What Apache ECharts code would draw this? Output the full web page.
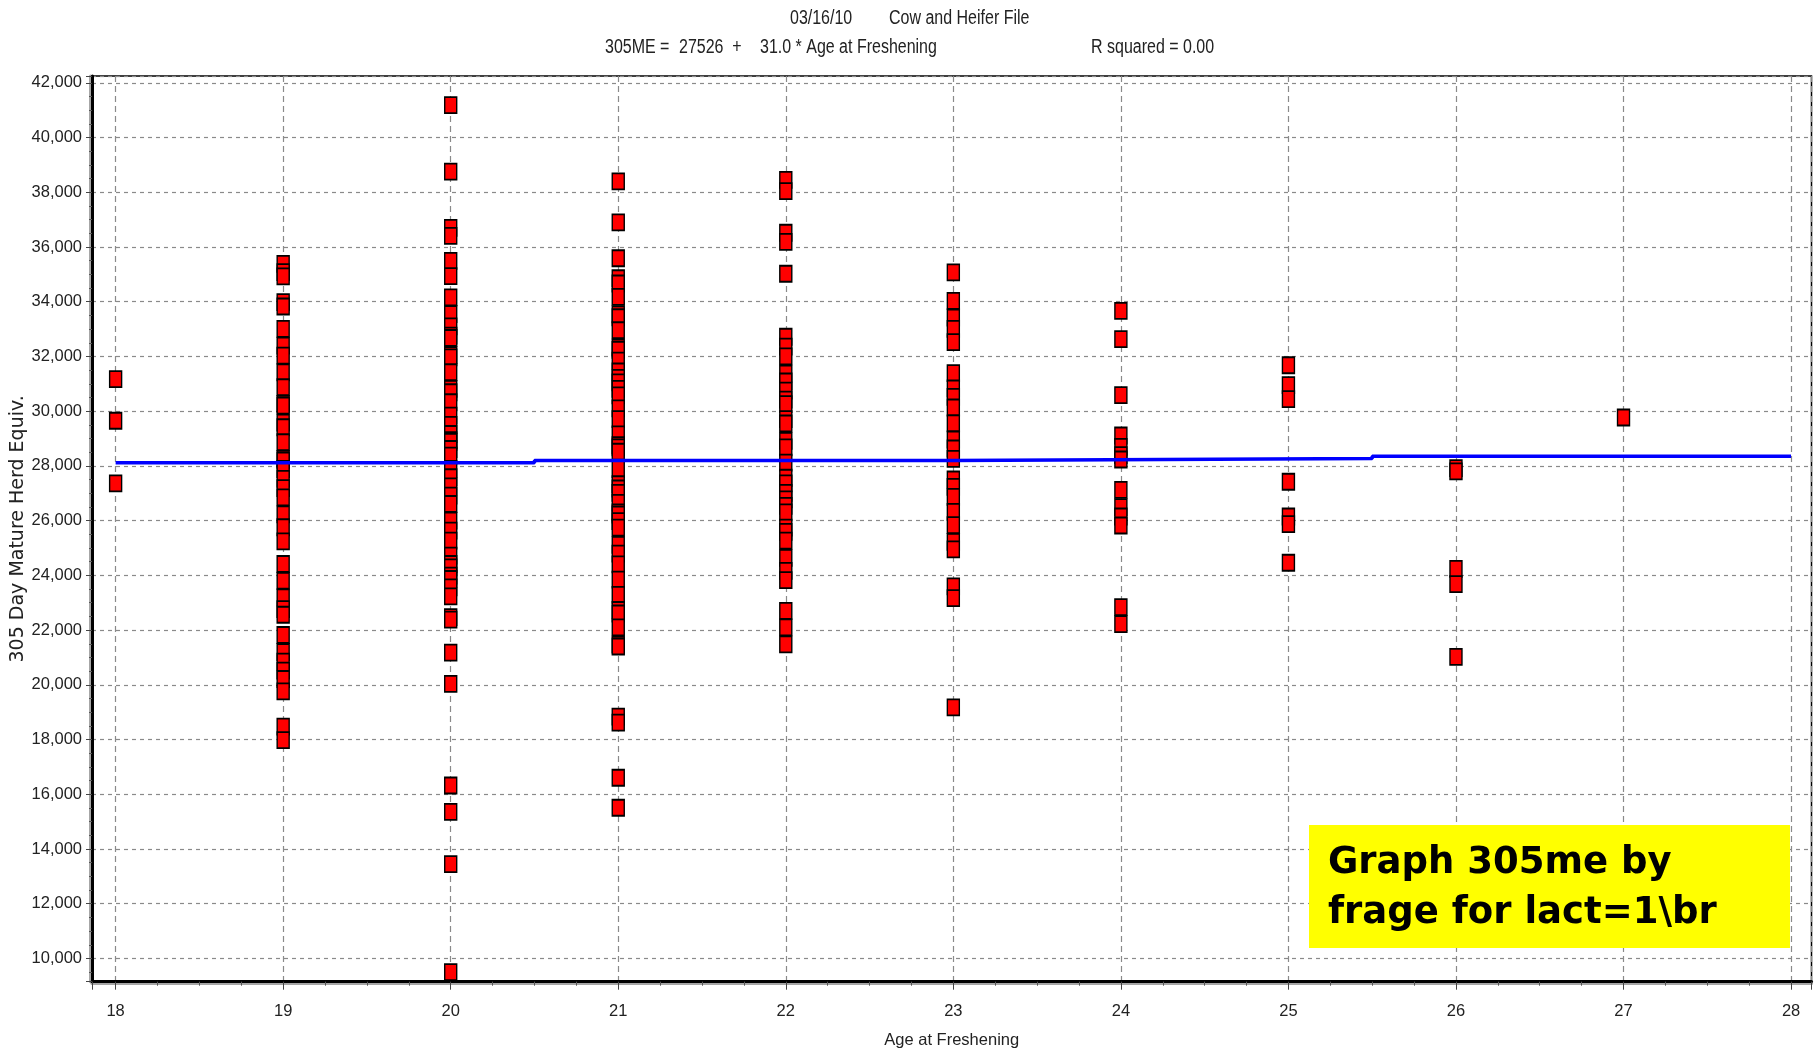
<!DOCTYPE html>
<html><head><meta charset="utf-8">
<script src="https://cdn.jsdelivr.net/npm/echarts@6/dist/echarts.min.js"></script>
<style>html,body{margin:0;padding:0;background:#fff}#c{width:1815px;height:1051px}</style>
</head><body><div id="c"></div>
<script>
// ---- data ----
const xTicks = [18, 19, 20, 21, 22, 23, 24, 25, 26, 27, 28];
const yTicks = [10000, 12000, 14000, 16000, 18000, 20000, 22000, 24000, 26000, 28000, 30000, 32000, 34000, 36000, 38000, 40000, 42000];

const age18 = [31170, 29650, 27360];
const age19 = [35385, 35082, 34925, 33985, 33827,
  33007, 32397, 32031, 31422, 30874, 30265, 30204, 29580, 29412, 28864, 28255, 28194, 27889, 27524, 27190, 26853, 26230, 25757, 25245,
  24415, 23804, 23194, 22768, 22560,
  21822, 21200, 20850, 20517, 20213, 19761,
  18471, 17978];
const age20 = [41188, 38754, 36700, 36408, 35495, 34936,
  34161, 33551, 33100, 32760, 32675, 32050, 31967, 31422, 30813, 30691, 30326, 29838, 29500, 29168, 28942, 28880, 28620, 28375, 27889, 27585, 27250, 26914, 26609, 26000, 25635, 25269, 24721, 24415, 24293, 23988, 23866, 23561, 23233,
  22472, 22381, 21175, 20037, 16320, 15355, 13448, 9500];
const age21 = [38400, 36900, 35590,
  34858, 34668, 34178, 33542, 33433, 32958, 32322, 32242, 31847, 31452, 31215, 31054, 30816, 30579, 30104, 29709, 29154, 28755, 28678, 28518, 27885, 27330, 27173, 27012, 26650, 26300, 26223, 25985, 25744, 25112, 24794, 24399, 23844, 23288, 22736, 22608, 22100, 21468, 21399,
  18838, 18617, 16605, 15507];
const age22 = [38455, 38042, 36523, 36187, 35023,
  32720, 32360, 32004, 31371, 31086, 30750, 30421, 30261, 29709, 29549, 28916, 28678, 28123, 27568, 27363, 27012, 26775, 26537, 26300, 25744, 25587, 25269, 24637, 24162, 23825,
  22703, 22100, 21479];
const age23 = [35071, 34032, 33424, 33008, 32522,
  31390, 30830, 30524, 30136, 29552, 28967, 28638, 28258,
  27504, 27236, 26870, 26322, 25836, 25226, 24948,
  23595, 23168, 19173];
const age24 = [33667, 32633, 30586, 29113, 28696, 28393, 28236, 27126, 26493, 26150, 25824, 22838, 22217];
const age25 = [31680, 30950, 30440, 27420, 26150, 25870, 24460];
const age26 = [27920, 27800, 24240, 23680, 21020];
const age27 = [29770];

// regression line as drawn (stepped by the original renderer)
const regX = [18, 20.5, 23, 25.5, 28];
const regY = [28120, 28200, 28270, 28355, 28355];

const columns = [[18, age18], [19, age19], [20, age20], [21, age21], [22, age22], [23, age23], [24, age24], [25, age25], [26, age26], [27, age27]];
const scatterData = [];
columns.forEach(([x, vals]) => vals.forEach(v => scatterData.push([x, v])));

const SANS = "'Liberation Sans', Arial, sans-serif";
const TXT = '#222';

const chart = echarts.init(document.getElementById('c'), null, {renderer: 'canvas'});
// condensed header text (emulates Arial Narrow by horizontal scaling)
const txt = (s, x, y) => ({type: 'text', x: x, y: y, scaleX: 0.82, silent: true,
  style: {text: s, fontSize: 19.5, fontFamily: SANS, fill: TXT, align: 'left', verticalAlign: 'middle', textAlign: 'left', textVerticalAlign: 'middle'}});

chart.setOption({
  animation: false,
  backgroundColor: '#fff',
  grid: {left: 92, right: 3.5, top: 76, bottom: 69.3, show: true, borderColor: '#000', borderWidth: 1.5, backgroundColor: '#fff', containLabel: false, outerBoundsMode: 'none'},
  xAxis: {
    type: 'value', min: 17.859, max: 28.122, minInterval: 1, maxInterval: 1,
    name: 'Age at Freshening', nameLocation: 'middle', nameGap: 50,
    nameTextStyle: {fontSize: 16.5, fontFamily: SANS, color: TXT},
    axisLine: {show: true, onZero: false, lineStyle: {color: '#000', width: 3, shadowColor: 'rgba(0,0,0,0.35)', shadowOffsetY: 2}},
    axisTick: {show: true, length: 8, lineStyle: {color: '#444', width: 1}},
    minorTick: {show: true, splitNumber: 4, length: 4, lineStyle: {color: '#555', width: 1}},
    axisLabel: {margin: 21, fontSize: 16.5, fontFamily: SANS, color: TXT,
      formatter: v => xTicks.includes(v) ? String(v) : ''},
    splitLine: {show: true, lineStyle: {color: '#8a8a8a', width: 1.2, type: [6, 4]}}
  },
  yAxis: {
    type: 'value', min: 9150, max: 42250, minInterval: 2000, maxInterval: 2000,
    name: '305 Day Mature Herd Equiv.', nameLocation: 'middle', nameGap: 64, nameMoveOverlap: false,
    nameTextStyle: {fontSize: 19, fontFamily: "'DejaVu Sans', sans-serif", color: TXT},
    axisLine: {show: true, onZero: false, lineStyle: {color: '#000', width: 3, shadowColor: 'rgba(0,0,0,0.35)', shadowOffsetX: -2}},
    axisTick: {show: true, length: 6, lineStyle: {color: '#444', width: 1}},
    minorTick: {show: true, splitNumber: 4, length: 3, lineStyle: {color: '#555', width: 1}},
    axisLabel: {margin: 10, fontSize: 16.5, fontFamily: SANS, color: TXT,
      formatter: v => yTicks.includes(v) ? v.toLocaleString('en-US') : ''},
    splitLine: {show: true, lineStyle: {color: '#8a8a8a', width: 1.2, type: [4, 4]}}
  },
  graphic: [
    txt('03/16/10', 790, 19),
    txt('Cow and Heifer File', 889, 19),
    txt('305ME =', 605, 48),
    txt('27526  +', 679, 48),
    txt('31.0 * Age at Freshening', 760, 48),
    txt('R squared = 0.00', 1091, 48),
    {type: 'rect', shape: {x: 1309, y: 825, width: 481, height: 123}, style: {fill: '#ffff00'}, z: 10, silent: true},
    {type: 'text', x: 1328, y: 863, z: 11, silent: true, style: {text: 'Graph 305me by', fontSize: 37, fontWeight: 'bold', fontFamily: "'Comic Sans MS', 'DejaVu Sans', sans-serif", fill: '#000', align: 'left', verticalAlign: 'middle', textAlign: 'left', textVerticalAlign: 'middle'}},
    {type: 'text', x: 1328, y: 913, z: 11, silent: true, style: {text: 'frage for lact=1\\br', fontSize: 37, fontWeight: 'bold', fontFamily: "'Comic Sans MS', 'DejaVu Sans', sans-serif", fill: '#000', align: 'left', verticalAlign: 'middle', textAlign: 'left', textVerticalAlign: 'middle'}}
  ],
  series: [
    {type: 'scatter', symbol: 'rect', symbolSize: [12, 16], silent: true, z: 2,
      itemStyle: {color: '#ff0000', borderColor: '#000', borderWidth: 1.6, opacity: 1},
      data: scatterData},
    {type: 'line', step: 'end', symbol: 'none', showSymbol: false, silent: true, z: 3,
      lineStyle: {color: '#0000ff', width: 3.5},
      data: regX.map((x, i) => [x, regY[i]])}
  ]
});
</script>
</body></html>
